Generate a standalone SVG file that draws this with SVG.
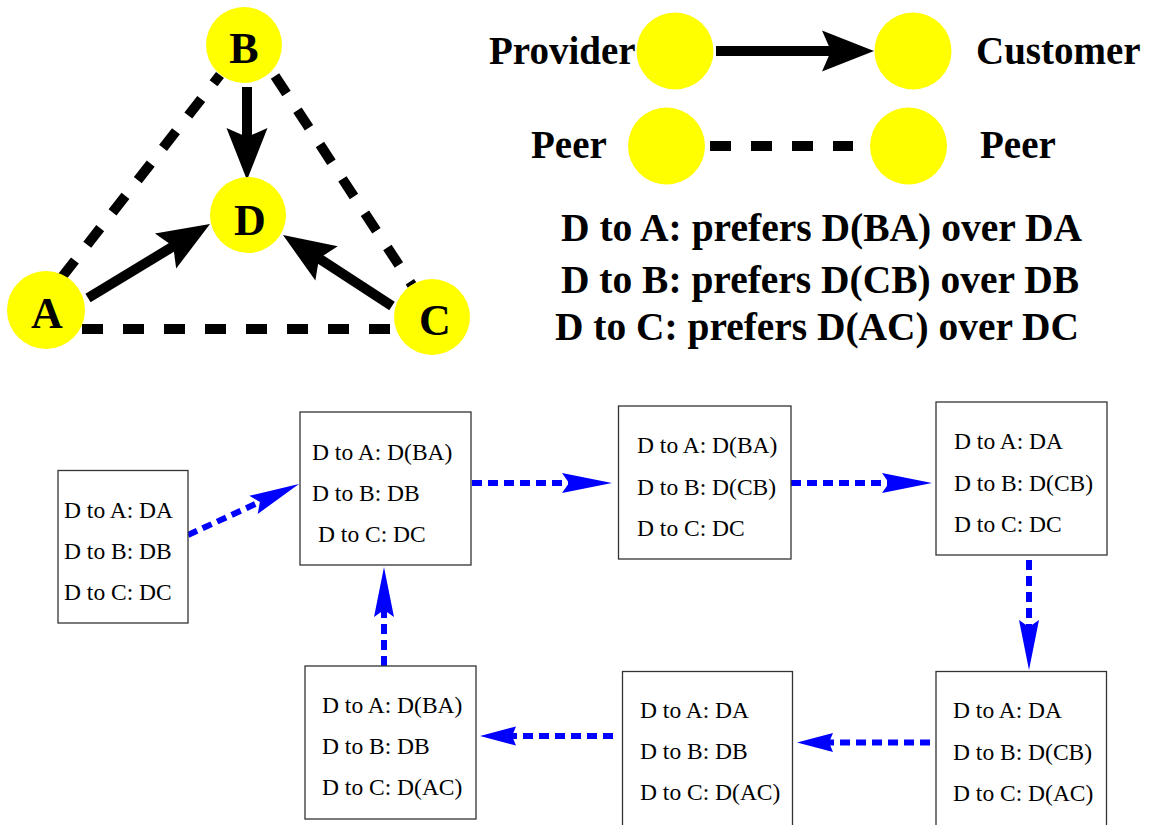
<svg xmlns="http://www.w3.org/2000/svg" width="1149" height="825" viewBox="0 0 1149 825">
  <style>
    .node { fill: #ffff00; stroke: none; }
    .big { font-family: "Liberation Serif", "Times New Roman", serif; font-weight: bold; font-size: 44px; fill: #000; text-anchor: middle; }
    .leg { font-family: "Liberation Serif", "Times New Roman", serif; font-weight: bold; font-size: 39px; fill: #000; }
    .box { fill: #fff; stroke: #333; stroke-width: 1.3; }
    .t { font-family: "Liberation Serif", "Times New Roman", serif; font-size: 23.5px; fill: #000; }
    .peer { fill: none; stroke: #000; stroke-width: 10; stroke-dasharray: 21 20; }
    .prov { fill: none; stroke: #000; stroke-width: 10; marker-end: url(#headK); }
    .flow { fill: none; stroke: #0000ff; stroke-width: 6; stroke-dasharray: 10 6; }
    .flowL { marker-end: url(#headB); }
    .flowS { marker-end: url(#headS); }
  </style>
  <defs>
    <!-- black barbed head: origin sits 3px past the notch, tip 40px ahead -->
    <marker id="headK" markerUnits="userSpaceOnUse" orient="auto" markerWidth="60" markerHeight="50" refX="0" refY="0" viewBox="-15 -25 60 50" overflow="visible">
      <path d="M40,0 L-12,-20.5 L-3,0 L-12,20.5 Z" fill="#000"/>
    </marker>
    <!-- long blue head -->
    <marker id="headB" markerUnits="userSpaceOnUse" orient="auto" markerWidth="60" markerHeight="30" refX="0" refY="0" viewBox="-15 -15 60 30" overflow="visible">
      <path d="M40,0 L-10,-10 L-3,0 L-10,10 Z" fill="#0000ff"/>
    </marker>
    <!-- short blue head -->
    <marker id="headS" markerUnits="userSpaceOnUse" orient="auto" markerWidth="50" markerHeight="30" refX="0" refY="0" viewBox="-15 -15 50 30" overflow="visible">
      <path d="M28,0 L-8,-9.5 L-4,0 L-8,9.5 Z" fill="#0000ff"/>
    </marker>
  </defs>

  <rect width="1149" height="825" fill="#fff"/>

  <!-- connectors -->
  <g id="connectors">
    <!-- peer links of the triangle -->
    <line class="peer" x1="62" y1="277" x2="220" y2="75"/>
    <line class="peer" x1="275" y1="76" x2="412" y2="285"/>
    <line class="peer" x1="82" y1="329" x2="390" y2="329"/>
    <!-- provider to customer links -->
    <line class="prov" x1="247" y1="87" x2="247" y2="140"/>
    <line class="prov" x1="88" y1="298" x2="175.8" y2="244.8"/>
    <line class="prov" x1="392" y1="306" x2="316.5" y2="256.8"/>
    <!-- legend links -->
    <line class="prov" x1="716" y1="51" x2="834" y2="51"/>
    <line class="peer" x1="710" y1="146" x2="853" y2="146"/>
    <!-- state transitions -->
    <line class="flow flowL" x1="188" y1="535" x2="262.6" y2="500.7"/>
    <line class="flow flowL" x1="472" y1="483" x2="572" y2="483"/>
    <line class="flow flowL" x1="791" y1="483" x2="892" y2="483"/>
    <line class="flow flowL" x1="1029" y1="560" x2="1029" y2="630"/>
    <line class="flow flowS" x1="930" y1="742.5" x2="825" y2="742.5"/>
    <line class="flow flowS" x1="613" y1="736" x2="508" y2="736"/>
    <line class="flow flowL" x1="384" y1="666" x2="384" y2="607"/>
  </g>

  <!-- AS nodes -->
  <g id="node-B">
    <circle class="node" cx="244" cy="45" r="38"/>
    <text class="big" x="244" y="63">B</text>
  </g>
  <g id="node-D">
    <circle class="node" cx="248" cy="215" r="38"/>
    <text class="big" x="250" y="235">D</text>
  </g>
  <g id="node-A">
    <circle class="node" cx="46" cy="310" r="39"/>
    <text class="big" x="47" y="328">A</text>
  </g>
  <g id="node-C">
    <circle class="node" cx="432" cy="317" r="38"/>
    <text class="big" x="435" y="335">C</text>
  </g>

  <!-- legend -->
  <g id="legend-provider">
    <text class="leg" x="489" y="64">Provider</text>
    <circle class="node" cx="675" cy="51" r="38.5"/>
  </g>
  <g id="legend-customer">
    <circle class="node" cx="913" cy="51" r="38.5"/>
    <text class="leg" x="976" y="64">Customer</text>
  </g>
  <g id="legend-peer-left">
    <text class="leg" x="531" y="158">Peer</text>
    <circle class="node" cx="666.5" cy="146" r="38.5"/>
  </g>
  <g id="legend-peer-right">
    <circle class="node" cx="908.5" cy="146" r="38.5"/>
    <text class="leg" x="980" y="158">Peer</text>
  </g>
  <g id="preferences">
    <text class="leg" x="561" y="241" textLength="521" lengthAdjust="spacingAndGlyphs">D to A: prefers D(BA) over DA</text>
    <text class="leg" x="561" y="293" textLength="518" lengthAdjust="spacingAndGlyphs">D to B: prefers D(CB) over DB</text>
    <text class="leg" x="555" y="340" textLength="524" lengthAdjust="spacingAndGlyphs">D to C: prefers D(AC) over DC</text>
  </g>

  <!-- routing states -->
  <g id="state-1">
    <rect class="box" x="58" y="470.5" width="130" height="152.5"/>
    <text class="t" x="64" y="518">D to A: DA</text>
    <text class="t" x="64" y="559">D to B: DB</text>
    <text class="t" x="64" y="600">D to C: DC</text>
  </g>
  <g id="state-2">
    <rect class="box" x="300" y="412" width="171" height="153"/>
    <text class="t" x="312" y="460">D to A: D(BA)</text>
    <text class="t" x="312" y="501">D to B: DB</text>
    <text class="t" x="318" y="542">D to C: DC</text>
  </g>
  <g id="state-3">
    <rect class="box" x="618.5" y="406" width="172.5" height="153"/>
    <text class="t" x="637" y="453">D to A: D(BA)</text>
    <text class="t" x="637" y="495">D to B: D(CB)</text>
    <text class="t" x="637" y="536">D to C: DC</text>
  </g>
  <g id="state-4">
    <rect class="box" x="936" y="402" width="171" height="153"/>
    <text class="t" x="954" y="449">D to A: DA</text>
    <text class="t" x="954" y="491">D to B: D(CB)</text>
    <text class="t" x="954" y="532">D to C: DC</text>
  </g>
  <g id="state-5">
    <rect class="box" x="936" y="671.5" width="170.5" height="160"/>
    <text class="t" x="953" y="718">D to A: DA</text>
    <text class="t" x="953" y="760">D to B: D(CB)</text>
    <text class="t" x="953" y="801">D to C: D(AC)</text>
  </g>
  <g id="state-6">
    <rect class="box" x="622.5" y="671.5" width="170" height="160"/>
    <text class="t" x="640" y="718">D to A: DA</text>
    <text class="t" x="640" y="759">D to B: DB</text>
    <text class="t" x="640" y="800">D to C: D(AC)</text>
  </g>
  <g id="state-7">
    <rect class="box" x="305" y="666" width="171" height="153"/>
    <text class="t" x="322" y="712.5">D to A: D(BA)</text>
    <text class="t" x="322" y="753.5">D to B: DB</text>
    <text class="t" x="322" y="795">D to C: D(AC)</text>
  </g>
</svg>
